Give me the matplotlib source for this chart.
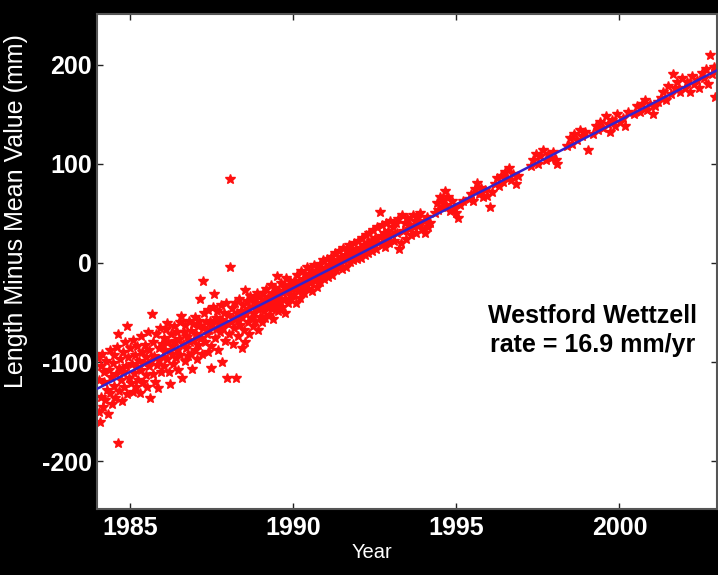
import matplotlib
matplotlib.use('agg')
import matplotlib.pyplot as plt
import numpy as np

plt.rcParams['font.family'] = ['Liberation Sans', 'DejaVu Sans']
plt.rcParams['axes.unicode_minus'] = False

# baseline length (mm, minus mean), grouped by epoch
yr_84_85 = [1984.02, 1984.04, 1984.06, 1984.08, 1984.10, 1984.12, 1984.15, 1984.17, 1984.20, 1984.22,
            1984.25, 1984.27, 1984.30, 1984.33, 1984.35, 1984.38, 1984.40, 1984.43, 1984.45, 1984.48,
            1984.50, 1984.52, 1984.55, 1984.58, 1984.60, 1984.63, 1984.64, 1984.66, 1984.68, 1984.70,
            1984.73, 1984.75, 1984.78, 1984.80, 1984.83, 1984.86, 1984.88, 1984.90, 1984.92, 1984.95,
            1984.97, 1985.00, 1985.03, 1985.05, 1985.08, 1985.10, 1985.13, 1985.15, 1985.18, 1985.20,
            1985.23, 1985.25, 1985.28, 1985.30, 1985.33, 1985.35, 1985.38, 1985.40, 1985.43, 1985.45,
            1985.48, 1985.50, 1985.53, 1985.55, 1985.58, 1985.60, 1985.62, 1985.65, 1985.67, 1985.70,
            1985.72, 1985.75, 1985.78, 1985.80, 1985.83, 1985.86, 1985.88, 1985.90, 1985.93, 1985.95,
            1985.98]
mm_84_85 = [-96, -150, -118, -160, -104, -135, -92, -145, -120, -110,
            -138, -99, -128, -152, -108, -88, -131, -115, -142, -101,
            -124, -93, -136, -112, -85, -181, -72, -106, -129, -97,
            -118, -139, -90, -110, -125, -80, -104, -64, -132, -95,
            -116, -86, -121, -102, -130, -78, -111, -93, -125, -105,
            -84, -118, -99, -131, -74, -108, -90, -120, -101, -83,
            -113, -95, -125, -70, -104, -88, -136, -99, -51, -112,
            -80, -94, -120, -72, -103, -126, -86, -98, -66, -110,
            -82]

yr_86_87 = [1986.00, 1986.03, 1986.05, 1986.08, 1986.10, 1986.13, 1986.15, 1986.18, 1986.20, 1986.23,
            1986.25, 1986.28, 1986.30, 1986.33, 1986.35, 1986.38, 1986.40, 1986.43, 1986.45, 1986.48,
            1986.50, 1986.53, 1986.55, 1986.57, 1986.59, 1986.62, 1986.65, 1986.68, 1986.70, 1986.73,
            1986.75, 1986.78, 1986.80, 1986.83, 1986.86, 1986.88, 1986.90, 1986.93, 1986.95, 1986.98,
            1987.00, 1987.03, 1987.05, 1987.08, 1987.10, 1987.13, 1987.15, 1987.18, 1987.20, 1987.23,
            1987.25, 1987.28, 1987.30, 1987.33, 1987.35, 1987.38, 1987.40, 1987.43, 1987.45, 1987.48,
            1987.50, 1987.52, 1987.55, 1987.58, 1987.60, 1987.63, 1987.65, 1987.68, 1987.70, 1987.73,
            1987.75, 1987.78, 1987.81, 1987.83, 1987.86, 1987.88, 1987.90, 1987.93, 1987.95, 1987.98]
mm_86_87 = [-95, -76, -104, -88, -67, -61, -97, -80, -110, -122,
            -72, -92, -84, -102, -64, -79, -96, -70, -88, -108,
            -77, -60, -93, -53, -116, -82, -70, -99, -63, -86,
            -75, -94, -58, -80, -69, -92, -107, -62, -78, -88,
            -54, -72, -97, -64, -83, -58, -36, -76, -92, -66,
            -18, -50, -80, -60, -72, -90, -47, -68, -58, -84,
            -106, -62, -44, -31, -76, -55, -67, -48, -88, -60,
            -70, -42, -100, -57, -66, -50, -79, -40, -61, -116]

yr_88_89 = [1988.02, 1988.04, 1988.07, 1988.07, 1988.10, 1988.12, 1988.15, 1988.17, 1988.20, 1988.22,
            1988.24, 1988.27, 1988.30, 1988.32, 1988.35, 1988.38, 1988.40, 1988.43, 1988.45, 1988.48,
            1988.50, 1988.53, 1988.53, 1988.56, 1988.58, 1988.61, 1988.63, 1988.66, 1988.68, 1988.71,
            1988.73, 1988.76, 1988.78, 1988.81, 1988.84, 1988.86, 1988.89, 1988.91, 1988.94, 1988.96,
            1988.99, 1989.02, 1989.04, 1989.07, 1989.10, 1989.12, 1989.15, 1989.18, 1989.20, 1989.23,
            1989.26, 1989.28, 1989.31, 1989.34, 1989.36, 1989.39, 1989.42, 1989.44, 1989.47, 1989.50,
            1989.52, 1989.55, 1989.58, 1989.60, 1989.63, 1989.66, 1989.68, 1989.71, 1989.74, 1989.76,
            1989.79, 1989.82, 1989.84, 1989.87, 1989.90, 1989.92, 1989.95, 1989.98]
mm_88_89 = [-52, -72, -4, 85, -60, -45, -82, -55, -66, -40,
            -116, -50, -74, -58, -36, -63, -48, -86, -54, -42,
            -68, -27, -80, -50, -38, -60, -46, -72, -33, -55,
            -44, -64, -36, -50, -58, -40, -30, -68, -46, -34,
            -54, -42, -60, -30, -48, -37, -55, -26, -44, -34,
            -52, -40, -22, -46, -30, -56, -36, -25, -42, -13,
            -32, -48, -28, -38, -20, -44, -30, -24, -36, -50,
            -15, -28, -40, -22, -32, -18, -36, -26]

yr_90_92 = [1990.01, 1990.04, 1990.06, 1990.09, 1990.12, 1990.15, 1990.18, 1990.21, 1990.24, 1990.27,
            1990.30, 1990.33, 1990.36, 1990.39, 1990.42, 1990.45, 1990.48, 1990.51, 1990.54, 1990.57,
            1990.60, 1990.63, 1990.66, 1990.69, 1990.72, 1990.75, 1990.78, 1990.81, 1990.84, 1990.87,
            1990.90, 1990.93, 1990.96, 1990.99, 1991.02, 1991.05, 1991.08, 1991.11, 1991.14, 1991.17,
            1991.20, 1991.23, 1991.26, 1991.29, 1991.32, 1991.35, 1991.38, 1991.41, 1991.44, 1991.47,
            1991.50, 1991.53, 1991.56, 1991.59, 1991.62, 1991.65, 1991.68, 1991.71, 1991.74, 1991.77,
            1991.80, 1991.83, 1991.86, 1991.89, 1991.92, 1991.95, 1991.98, 1992.01, 1992.04, 1992.07,
            1992.10, 1992.13, 1992.16, 1992.19, 1992.22, 1992.25, 1992.28, 1992.31, 1992.34, 1992.37,
            1992.40, 1992.43, 1992.46, 1992.49, 1992.52, 1992.55, 1992.58, 1992.61, 1992.65, 1992.68,
            1992.71, 1992.74, 1992.77, 1992.80, 1992.83, 1992.86, 1992.89, 1992.92, 1992.95, 1992.98]
mm_90_92 = [-32, -18, -23, -40, -12, -28, -20, -35, -8, -24,
            -16, -30, -11, -22, -4, -26, -15, -20, -8, -28,
            -12, -2, -18, -9, -24, -5, -14, -1, -19, -8,
            -12, 3, -16, -5, -10, 4, -14, -2, -8, 6,
            -12, 1, -5, 10, -7, 3, -3, 12, -1, 6,
            -6, 15, 2, 8, -4, 12, 5, 18, 1, 9,
            14, 3, 20, 8, 12, 4, 22, 10, 15, 5,
            25, 12, 18, 8, 28, 14, 20, 10, 30, 16,
            22, 12, 33, 18, 25, 14, 36, 20, 51, 27,
            18, 38, 24, 30, 16, 40, 26, 32, 20, 42]

yr_93 = [1993.02, 1993.06, 1993.10, 1993.14, 1993.18, 1993.22, 1993.26, 1993.30, 1993.34, 1993.38,
         1993.42, 1993.46, 1993.50, 1993.54, 1993.58, 1993.62, 1993.66, 1993.70, 1993.74, 1993.78,
         1993.82, 1993.86, 1993.90, 1993.95, 1994.00, 1994.05, 1994.10, 1994.15, 1994.20]
mm_93 = [28, 36, 22, 40, 30, 44, 14, 20, 48, 32,
         40, 24, 45, 34, 38, 28, 48, 36, 42, 30,
         46, 38, 50, 34, 42, 30, 46, 36, 40]

yr_94_96 = [1994.36, 1994.42, 1994.45, 1994.50, 1994.55, 1994.60, 1994.66, 1994.70, 1994.75, 1994.80,
            1994.86, 1994.92, 1995.00, 1995.06, 1995.12, 1995.20, 1995.38, 1995.44, 1995.50, 1995.56,
            1995.64, 1995.70, 1995.76, 1995.82, 1995.88, 1995.95, 1996.04, 1996.10, 1996.18, 1996.24,
            1996.30, 1996.38, 1996.44, 1996.50, 1996.56, 1996.62, 1996.68, 1996.74, 1996.82, 1996.90]
mm_94_96 = [50, 60, 53, 66, 56, 63, 73, 58, 66, 52,
            62, 56, 50, 45, 58, 62, 64, 70, 62, 75,
            81, 70, 76, 66, 74, 68, 56, 72, 80, 86,
            78, 88, 82, 92, 86, 96, 84, 90, 80, 88]

yr_97_98 = [1997.28, 1997.36, 1997.44, 1997.50, 1997.58, 1997.66, 1997.74, 1997.82, 1997.90, 1997.98,
            1998.06, 1998.10, 1998.40, 1998.48, 1998.55, 1998.62, 1998.70, 1998.78, 1998.86, 1998.94,
            1999.04]
mm_97_98 = [98, 104, 110, 100, 108, 114, 104, 110, 106, 112,
            104, 100, 118, 126, 120, 130, 124, 134, 128, 132,
            114]

yr_99_02 = [1999.20, 1999.28, 1999.35, 1999.42, 1999.50, 1999.58, 1999.64, 1999.70, 1999.78, 1999.86,
            1999.94, 2000.02, 2000.10, 2000.18, 2000.26, 2000.45, 2000.55, 2000.62, 2000.70, 2000.79,
            2000.86, 2000.94, 2001.02, 2001.10, 2001.18, 2001.28, 2001.35, 2001.42, 2001.50, 2001.58,
            2001.65, 2001.70, 2001.78, 2001.85, 2001.92, 2002.00, 2002.08, 2002.15, 2002.22, 2002.30,
            2002.38, 2002.45, 2002.52, 2002.60, 2002.66, 2002.72, 2002.78, 2002.84, 2002.90, 2002.93,
            2002.97]
mm_99_02 = [130, 138, 134, 142, 136, 148, 140, 132, 144, 138,
            150, 142, 146, 138, 152, 150, 158, 152, 160, 164,
            154, 160, 150, 158, 162, 166, 172, 164, 178, 170,
            190, 176, 182, 172, 186, 176, 182, 172, 188, 180,
            184, 176, 192, 186, 196, 180, 210, 190, 198, 167,
            194]

rate = 16.9        # mm/yr
t_mean = 1991.5    # epoch where the fit crosses zero

years = np.concatenate([yr_84_85, yr_86_87, yr_88_89, yr_90_92, yr_93, yr_94_96, yr_97_98, yr_99_02])
lengths = np.concatenate([mm_84_85, mm_86_87, mm_88_89, mm_90_92, mm_93, mm_94_96, mm_97_98, mm_99_02])

fig = plt.figure(figsize=(7.18, 5.75), dpi=100, facecolor='black')
ax = fig.add_axes([0.1355, 0.1148, 0.8635, 0.8609])
ax.set_facecolor('white')

ax.set_xlim(1984, 2003)
ax.set_ylim(-248, 251)

ax.plot(years, lengths, '*', color='#ff1010', ms=7.5, mec='#ff1010', zorder=2)

xs = np.array(ax.get_xlim())
ax.plot(xs, rate * (xs - t_mean), color='#3322cc', lw=1.8, zorder=3)

ax.set_xticks([1985, 1990, 1995, 2000])
ax.set_yticks([-200, -100, 0, 100, 200])
ax.tick_params(direction='in', length=4, width=1, color='#222222', top=True, right=True,
               labelcolor='white', labelsize=18)
ax.tick_params(axis='x', pad=5)
ax.tick_params(axis='y', pad=4)
for lbl in ax.get_xticklabels() + ax.get_yticklabels():
    lbl.set_fontweight('bold')

for s in ax.spines.values():
    s.set_color('#555555')
    s.set_linewidth(1.5)

ax.text(1999.17, -68, "Westford Wettzell\nrate = 16.9 mm/yr", ha='center', va='center',
        fontsize=18, fontweight='bold', color='black', linespacing=1.3)

fig.text(372 / 718, 1 - 553 / 575, "Year", color='white', fontsize=14.5, ha='center', va='center')
fig.text(16 / 718, 1 - 211 / 575, "Length Minus Mean Value (mm)", color='white', fontsize=18,
         rotation=90, ha='center', va='center')

fig.savefig("out.png", dpi=100, facecolor='black')
plt.close()
